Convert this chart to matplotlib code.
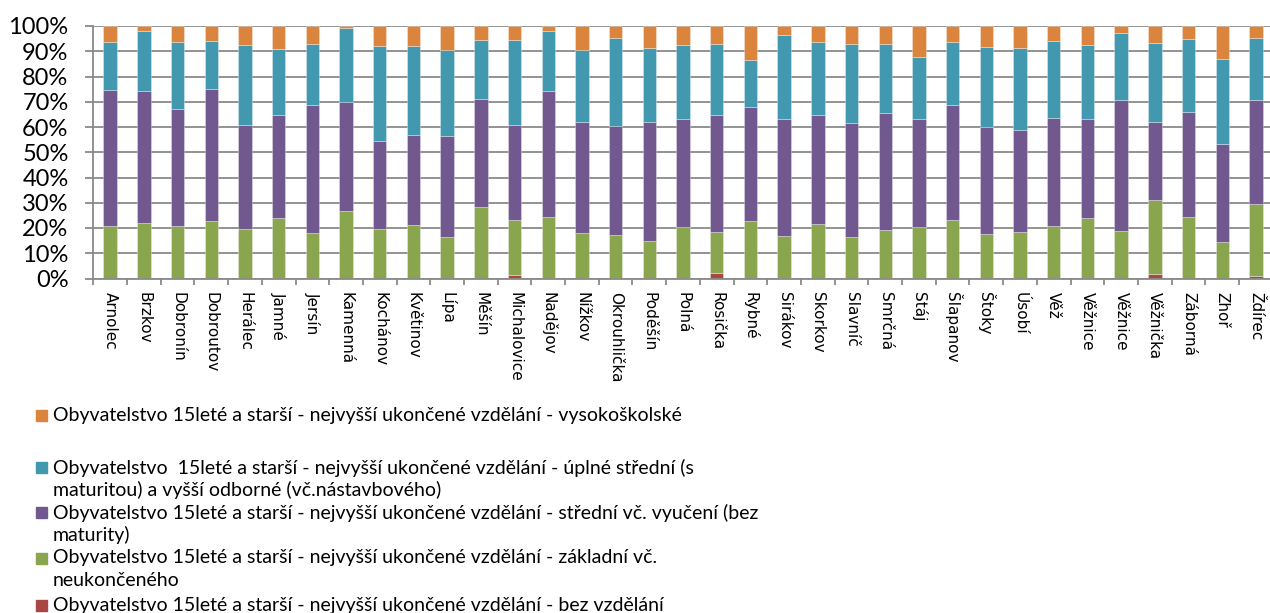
import numpy as np
import matplotlib
matplotlib.use("Agg")
import matplotlib.pyplot as plt
from matplotlib.patches import Rectangle
from matplotlib.ticker import FixedLocator

plt.rcParams['font.family'] = ['Lato', 'DejaVu Sans']

# obce
obce = ['Arnolec', 'Brzkov', 'Dobronín', 'Dobroutov', 'Herálec', 'Jamné', 'Jersín',
        'Kamenná', 'Kochánov', 'Květinov', 'Lípa', 'Měšín', 'Michalovice', 'Nadějov',
        'Nížkov', 'Okrouhlička', 'Poděšín', 'Polná', 'Rosička', 'Rybné', 'Sirákov',
        'Skorkov', 'Slavníč', 'Smrčná', 'Stáj', 'Šlapanov', 'Štoky', 'Úsobí', 'Věž',
        'Věžnice', 'Věžnice', 'Věžnička', 'Záborná', 'Zhoř', 'Ždírec']

# podily v %
bez_vzdelani = [0, 0, 0.3, 0.2, 0, 0.3, 0.3, 0, 0, 0, 0, 0, 1.3, 0.3, 0.3, 0, 0.3, 0.3,
                2.0, 0, 0.3, 0, 0, 0.3, 0, 0, 0.3, 0.3, 0.3, 0, 0, 1.6, 0, 0, 0.9]
zakladni = [20.9, 21.9, 20.6, 22.5, 19.6, 23.6, 17.9, 26.6, 19.6, 21.1, 16.6, 28.3, 21.8,
            24.0, 17.9, 17.2, 14.5, 20.0, 16.4, 22.9, 16.5, 21.4, 16.4, 19.0, 20.3, 23.0,
            17.3, 18.2, 20.6, 24.0, 18.9, 29.3, 24.3, 14.3, 28.8]
stredni = [53.7, 52.2, 46.3, 52.5, 41.0, 41.0, 50.6, 43.4, 34.8, 35.7, 39.9, 42.9, 37.8,
           49.8, 43.6, 43.2, 47.3, 42.7, 46.5, 44.9, 46.5, 43.2, 45.3, 46.1, 42.7, 45.6,
           42.5, 40.4, 42.5, 39.3, 51.6, 31.2, 41.5, 38.8, 41.1]
uplne_stredni = [19.1, 23.8, 26.3, 18.7, 31.7, 26.1, 24.2, 29.3, 37.8, 35.4, 34.1, 23.1,
                 33.4, 23.8, 28.6, 35.0, 29.3, 29.6, 28.1, 18.9, 33.0, 29.1, 31.0, 27.3,
                 24.6, 24.9, 31.4, 32.2, 30.5, 29.0, 26.6, 31.2, 29.2, 33.7, 24.4]
vysokoskolske = [6.3, 2.1, 6.5, 6.1, 7.7, 9.0, 7.0, 0.7, 7.8, 7.8, 9.4, 5.7, 5.7, 2.1,
                 9.6, 4.6, 8.6, 7.4, 7.0, 13.3, 3.7, 6.3, 7.3, 7.3, 12.4, 6.5, 8.5, 8.9,
                 6.1, 7.7, 2.9, 6.7, 5.0, 13.2, 4.8]

procenta = list(range(0, 101, 10))

nazvy = [
    'Obyvatelstvo 15leté a starší - nejvyšší ukončené vzdělání - bez vzdělání',
    'Obyvatelstvo 15leté a starší - nejvyšší ukončené vzdělání - základní vč.\nneukončeného',
    'Obyvatelstvo 15leté a starší - nejvyšší ukončené vzdělání - střední vč. vyučení (bez\nmaturity)',
    'Obyvatelstvo  15leté a starší - nejvyšší ukončené vzdělání - úplné střední (s\nmaturitou) a vyšší odborné (vč.nástavbového)',
    'Obyvatelstvo 15leté a starší - nejvyšší ukončené vzdělání - vysokoškolské',
]
barvy = ['#AA4643', '#89A54E', '#71588F', '#4198AF', '#DB843D']

serie = [bez_vzdelani, zakladni, stredni, uplne_stredni, vysokoskolske]

W, H = 1270, 613
fig = plt.figure(figsize=(W / 100, H / 100), dpi=100)
ax = fig.add_axes([93.3 / W, (H - 278.5) / H, 35 * 33.7 / W, 252.5 / H])

x = np.arange(len(obce))
spodek = np.zeros(len(obce))
for hodnoty, barva in zip(serie, barvy):
    hodnoty = np.array(hodnoty, dtype=float)
    ax.bar(x, hodnoty, 0.395, bottom=spodek, color=barva,
           edgecolor=(1, 1, 1, 0.45), linewidth=0.5, zorder=2)
    spodek = spodek + hodnoty

seda = '#8a8a8a'
ax.set_xlim(-0.5, len(obce) - 0.5)
ax.set_ylim(0, 100)
ax.set_yticks(procenta)
ax.set_yticklabels([f'{v}%' for v in procenta], fontsize=17)
ax.yaxis.grid(True, color=seda, linewidth=1.3, zorder=0)
ax.set_axisbelow(True)
ax.tick_params(axis='y', length=5.8, width=1.3, color=seda, pad=12)

ax.set_xticks(x)
ax.set_xticklabels(obce, rotation=-90, fontsize=11, family='DejaVu Sans',
                   ha='center', va='top')
ax.xaxis.set_minor_locator(FixedLocator(np.arange(-0.5, len(obce), 1)))
ax.tick_params(axis='x', which='major', length=0, pad=10)
ax.tick_params(axis='x', which='minor', length=4, width=1.3, color=seda)

for s in ['top', 'right']:
    ax.spines[s].set_visible(False)
ax.spines['left'].set_color(seda)
ax.spines['bottom'].set_color(seda)
ax.spines['left'].set_linewidth(1.3)
ax.spines['bottom'].set_linewidth(1.3)

# legenda (poradi jako v Excelu - od vrchni serie)
stredy = [415.5, 467.5, 512.5, 558, 605]
for y, text, barva in zip(stredy, nazvy[::-1], barvy[::-1]):
    fig.add_artist(Rectangle((36 / W, 1 - (y + 5.5) / H), 11 / W, 11 / H,
                             transform=fig.transFigure, color=barva))
    for k, radek in enumerate(text.split('\n')):
        fig.text(53 / W, 1 - (y + k * 22.5) / H, radek, fontsize=14,
                 va='center', ha='left', color='black')

fig.savefig('out.png', dpi=100)
